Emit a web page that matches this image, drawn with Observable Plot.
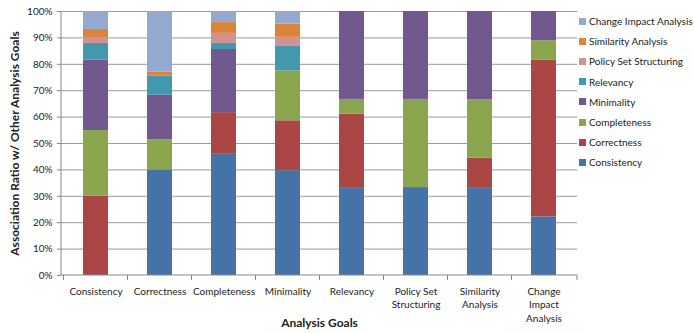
<!DOCTYPE html>
<html><head><meta charset="utf-8">
<script src="https://cdn.jsdelivr.net/npm/d3@7"></script>
<script src="https://cdn.jsdelivr.net/npm/@observablehq/plot@0.6"></script>
<style>
body{margin:0;background:#fff;font-family:Lato,"Open Sans",sans-serif;}
#wrap{position:relative;width:694px;height:333px;}
#legend{position:absolute;left:579px;top:11px;font-size:10px;color:#222;}
#legend div{height:20.2px;display:flex;align-items:center;white-space:nowrap;}
#legend span.sw{display:inline-block;width:7px;height:7px;margin-right:3px;}
</style></head>
<body><div id="wrap"><div id="legend"></div></div>
<script>
const categories = ["Consistency","Correctness","Completeness","Minimality","Relevancy","Policy Set Structuring","Similarity Analysis","Change Impact Analysis"];
const tickLabels = ["Consistency","Correctness","Completeness","Minimality","Relevancy","Policy Set\nStructuring","Similarity\nAnalysis","Change\nImpact\nAnalysis"];
const seriesNames = ["Consistency","Correctness","Completeness","Minimality","Relevancy","Policy Set Structuring","Similarity Analysis","Change Impact Analysis"];
const seriesColors = ["#4572A7","#AA4643","#89A54E","#71588F","#4198AF","#D19392","#DB843D","#93A9CF"];
const consistency  = [0,    40,   45.9, 39.7, 33.3, 33.3, 33.3, 22.2];
const correctness  = [30,   0,    15.8, 18.9, 27.8, 0,    11.1, 59.3];
const completeness = [24.9, 11.4, 0,    18.9, 5.6,  33.4, 22.2, 7.4];
const minimality   = [26.7, 16.9, 23.9, 0,    33.3, 33.3, 33.4, 11.1];
const relevancy    = [6.3,  7.3,  2.3,  9.5,  0,    0,    0,    0];
const policySet    = [2.1,  0,    3.8,  3.2,  0,    0,    0,    0];
const similarity   = [3.2,  1.4,  4.1,  5.0,  0,    0,    0,    0];
const changeImpact = [6.8,  23,   4.2,  4.8,  0,    0,    0,    0];
const seriesValues = [consistency,correctness,completeness,minimality,relevancy,policySet,similarity,changeImpact];
const yTicks = [0,10,20,30,40,50,60,70,80,90,100];

const rows = [];
seriesNames.forEach((s,i)=>categories.forEach((c,j)=>rows.push({goal:c, series:s, value:seriesValues[i][j]})));
const labelOf = new Map(categories.map((c,i)=>[c,tickLabels[i]]));
const font = "Lato, 'Open Sans', sans-serif";

const plot = Plot.plot({
  width: 694, height: 333,
  marginLeft: 61, marginRight: 117, marginTop: 11, marginBottom: 58,
  style: {fontFamily: font, fontSize: "10px", color: "#222", background: "#fff"},
  x: {domain: categories, paddingInner: 0.61, paddingOuter: 0.305, axis: null},
  y: {domain: [0,100], axis: null},
  color: {domain: seriesNames, range: seriesColors},
  marks: [
    Plot.ruleY(yTicks.slice(1), {stroke: "#999", strokeWidth: 1}),
    Plot.barY(rows, {x: "goal", y: "value", fill: "series"}),
    Plot.axisY({ticks: yTicks, tickSize: 4, tickPadding: 5, stroke: "#888", tickFormat: d => d + "%", fontSize: 10, label: null}),
    Plot.axisX({tickSize: 0, tickPadding: 10, tickFormat: d => labelOf.get(d), lineHeight: 1.33, fontSize: 10, label: null, lineAnchor: "top"}),
    Plot.text(["Association Ratio w/ Other Analysis Goals"], {frameAnchor: "left", textAnchor: "middle", rotate: -90, dx: -46, fontWeight: "bold", fontSize: 12, fill: "#222"}),
    Plot.text(["Analysis Goals"], {frameAnchor: "bottom", dy: 51, fontWeight: "bold", fontSize: 12, fill: "#222"})
  ]
});
document.getElementById("wrap").prepend(plot);

// axis lines and category-boundary ticks using the library's x scale
const xs = plot.scale("x"), ys = plot.scale("y");
const svg = d3.select(plot);
const left = xs.range[0], right = xs.range[1];
const y0 = ys.apply(0), yTop = ys.apply(100);
const g = svg.append("g").attr("stroke","#888").attr("fill","none");
g.append("line").attr("x1",left).attr("x2",left).attr("y1",yTop).attr("y2",y0);
g.append("line").attr("x1",left).attr("x2",right).attr("y1",y0).attr("y2",y0);
const bounds = categories.map(c => xs.apply(c) - (xs.step - xs.bandwidth)/2);
bounds.push(right);
bounds.forEach(b => g.append("line").attr("x1",b).attr("x2",b).attr("y1",y0).attr("y2",y0+5));

// legend (top entry = last series)
const legend = d3.select("#legend");
seriesNames.slice().reverse().forEach(s => {
  const i = seriesNames.indexOf(s);
  const row = legend.append("div");
  row.append("span").attr("class","sw").style("background", seriesColors[i]);
  row.append("span").text(s);
});
</script></body></html>
